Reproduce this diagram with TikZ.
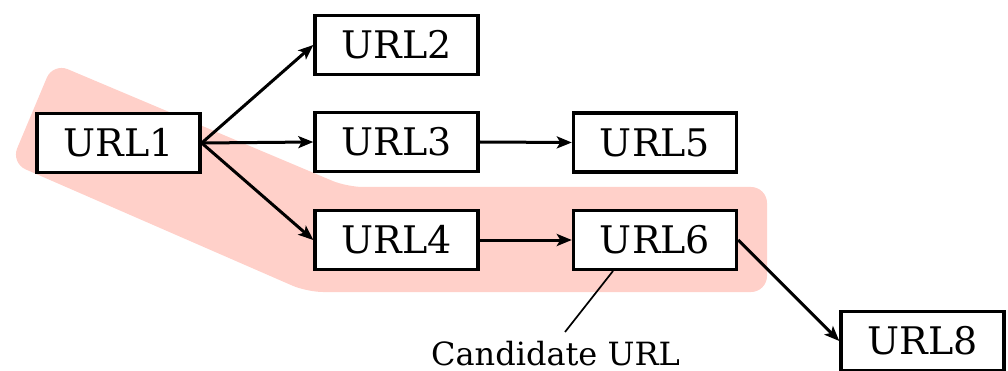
\documentclass[tikz,border=0pt]{standalone}
\usepackage{fontspec}
\setmainfont{DejaVu Serif}
\usetikzlibrary{arrows.meta,calc}
\definecolor{hl}{RGB}{255,208,201}
\tikzset{
  urlbox/.style={draw=black,line width=3.4pt,fill=white,minimum width=163pt,minimum height=59pt,inner sep=0pt,font=\fontsize{38}{42}\selectfont},
  link/.style={line width=3pt,-{Stealth[length=15pt,width=12pt,inset=3.5pt]}},
  pointer/.style={line width=1.7pt}
}
\begin{document}
\begin{tikzpicture}[x=1pt,y=-1pt]
\useasboundingbox (0,0) rectangle (1008,371);
% highlighted path
\fill[hl,rounded corners=16pt] (53,63) -- (347,187) -- (767,187) -- (767,292) -- (307,292) -- (11,163) -- cycle;
% nodes
\node[urlbox] (u1) at (118.5,143) {URL1};
\node[urlbox] (u2) at (396.5,45) {URL2};
\node[urlbox] (u3) at (396.5,142) {URL3};
\node[urlbox] (u4) at (396.5,240) {URL4};
\node[urlbox] (u5) at (655,142.5) {URL5};
\node[urlbox] (u6) at (655,240) {URL6};
\node[urlbox] (u8) at (922.5,341) {URL8};
\node[anchor=base,inner sep=0pt,font=\fontsize{32}{36}\selectfont] (cand) at (555.5,365) {Candidate URL};
\coordinate (ctip) at (565,332);
\coordinate (cstart) at (613,271);
% connectors
\draw[link] (u1.east) -- (u2.west);
\draw[link] (u1.east) -- (u3.west);
\draw[link] (u1.east) -- (u4.west);
\draw[link] (u3.east) -- (u5.west);
\draw[link] (u4.east) -- (u6.west);
\draw[link] (u6.east) -- (u8.west);
\draw[pointer] (cstart) -- (ctip);
\end{tikzpicture}
\end{document}
